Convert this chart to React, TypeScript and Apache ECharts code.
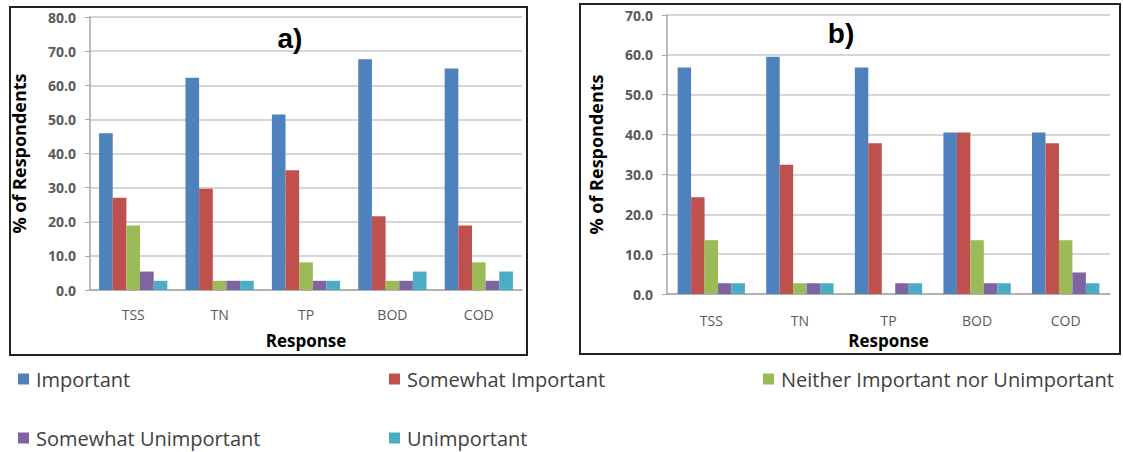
import React, { useEffect, useRef } from "react";
import * as echarts from "echarts";

const categories = ["TSS", "TN", "TP", "BOD", "COD"];
const seriesNames = [
  "Important",
  "Somewhat Important",
  "Neither Important nor Unimportant",
  "Somewhat Unimportant",
  "Unimportant",
];
const colors = ["#4F81BD", "#C0504D", "#9BBB59", "#8064A2", "#4BACC6"];

// Panel a) values per response level, for TSS, TN, TP, BOD, COD
const aImportant = [45.9, 62.2, 51.4, 67.6, 64.9];
const aSomewhatImportant = [27.0, 29.7, 35.1, 21.6, 18.9];
const aNeither = [18.9, 2.7, 8.1, 2.7, 8.1];
const aSomewhatUnimportant = [5.4, 2.7, 2.7, 2.7, 2.7];
const aUnimportant = [2.7, 2.7, 2.7, 5.4, 5.4];

// Panel b)
const bImportant = [56.8, 59.5, 56.8, 40.5, 40.5];
const bSomewhatImportant = [24.3, 32.4, 37.8, 40.5, 37.8];
const bNeither = [13.5, 2.7, 0, 13.5, 13.5];
const bSomewhatUnimportant = [2.7, 2.7, 2.7, 2.7, 5.4];
const bUnimportant = [2.7, 2.7, 2.7, 2.7, 2.7];

const aData = [aImportant, aSomewhatImportant, aNeither, aSomewhatUnimportant, aUnimportant];
const bData = [bImportant, bSomewhatImportant, bNeither, bSomewhatUnimportant, bUnimportant];

const FONT = "'Open Sans', Lato, sans-serif";

export default function App() {
  const ref = useRef<HTMLDivElement>(null);
  useEffect(() => {
    if (!ref.current) return;
    const chart = echarts.init(ref.current, undefined, { renderer: "svg" });

    const makeX = (gridIndex: number, margin: number, nameGap: number) => ({
      type: "category",
      gridIndex,
      data: categories,
      axisLine: { lineStyle: { color: "#a6a6a6", width: 1.5 } },
      axisTick: { show: false },
      axisLabel: { color: "#595959", fontSize: 14, fontFamily: FONT, margin },
      name: "Response",
      nameLocation: "middle",
      nameGap,
      nameTextStyle: { color: "#000", fontSize: 17, fontWeight: "bold", fontFamily: FONT },
    });
    const makeY = (gridIndex: number, max: number) => ({
      type: "value",
      gridIndex,
      min: 0,
      max,
      interval: 10,
      axisLine: { show: true, lineStyle: { color: "#a6a6a6", width: 1.5 } },
      axisTick: { show: true, length: 5, lineStyle: { color: "#a6a6a6" } },
      splitLine: { lineStyle: { color: "#c8c8c8", width: 1.5 } },
      axisLabel: {
        color: "#595959",
        fontSize: 14,
        fontFamily: FONT,
        fontWeight: "bold",
        margin: 14,
        formatter: (v: number) => v.toFixed(1),
      },
      name: "% of Respondents",
      nameLocation: "middle",
      nameGap: 62,
      nameTextStyle: { color: "#000", fontSize: 18, fontWeight: "bold", fontFamily: FONT },
    });

    const series: any[] = [];
    seriesNames.forEach((name, i) => {
      series.push({
        type: "bar",
        name,
        xAxisIndex: 0,
        yAxisIndex: 0,
        data: aData[i],
        itemStyle: { color: colors[i] },
        barGap: "0%",
        barCategoryGap: "21%",
      });
    });
    seriesNames.forEach((name, i) => {
      series.push({
        type: "bar",
        name,
        xAxisIndex: 1,
        yAxisIndex: 1,
        data: bData[i],
        itemStyle: { color: colors[i] },
        barGap: "0%",
        barCategoryGap: "24%",
      });
    });

    const legendPos = [
      { left: 18, top: 369 },
      { left: 389, top: 369 },
      { left: 763, top: 369 },
      { left: 18, top: 428 },
      { left: 389, top: 428 },
    ];
    const legends = seriesNames.map((n, i) => ({
      data: [n],
      left: legendPos[i].left,
      top: legendPos[i].top,
      padding: 0,
      icon: "rect",
      itemWidth: 11,
      itemHeight: 11,
      itemGap: 6,
      selectedMode: false,
      textStyle: { fontSize: 20, color: "#404040", fontFamily: FONT, padding: [0, 0, 0, 2] },
    }));

    chart.setOption({
      animation: false,
      backgroundColor: "#fff",
      grid: [
        { left: 90, top: 17, width: 432, height: 273 },
        { left: 667, top: 15, width: 443, height: 279 },
      ],
      xAxis: [makeX(0, 17, 42), makeX(1, 19, 38)],
      yAxis: [makeY(0, 80), makeY(1, 70)],
      legend: legends,
      series,
      graphic: [
        {
          type: "rect",
          shape: { x: 10, y: 7, width: 517, height: 348 },
          style: { fill: "none", stroke: "#222", lineWidth: 2 },
          z: 100,
        },
        {
          type: "rect",
          shape: { x: 580, y: 4, width: 540, height: 350 },
          style: { fill: "none", stroke: "#222", lineWidth: 2 },
          z: 100,
        },
        {
          type: "text",
          x: 290,
          y: 38,
          style: {
            text: "a)",
            font: "bold 28px 'Liberation Sans', Arial, sans-serif",
            fill: "#000",
            textAlign: "center",
            textVerticalAlign: "middle",
          },
          z: 100,
        },
        {
          type: "text",
          x: 841,
          y: 33,
          style: {
            text: "b)",
            font: "bold 28px 'Liberation Sans', Arial, sans-serif",
            fill: "#000",
            textAlign: "center",
            textVerticalAlign: "middle",
          },
          z: 100,
        },
      ],
    });
    return () => chart.dispose();
  }, []);
  return (
    <div
      ref={ref}
      style={{ position: "absolute", left: 0, top: 0, width: 1123, height: 452 }}
    />
  );
}
